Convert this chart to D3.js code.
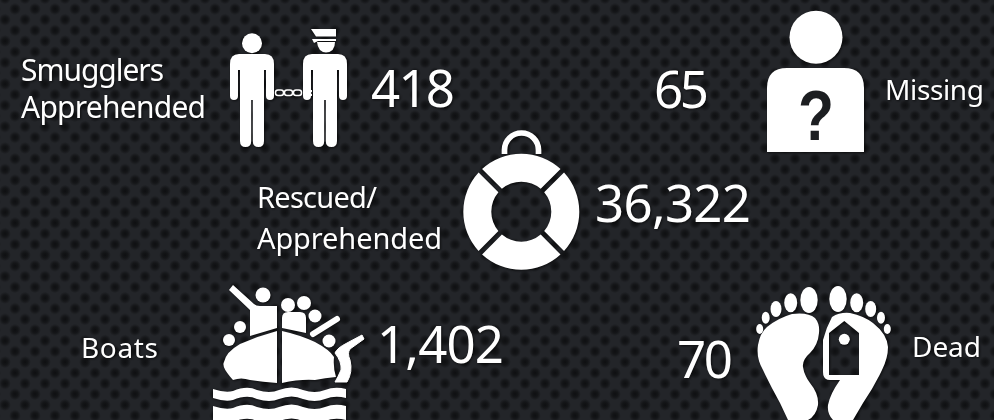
<!DOCTYPE html>
<html><head><meta charset="utf-8">
<script src="https://cdn.jsdelivr.net/npm/d3@7"></script>
<style>html,body{margin:0;padding:0;background:#1f2124;overflow:hidden}svg{display:block}</style>
</head><body><div id="c"></div>
<script>
const categories=["Smugglers Apprehended","Missing","Rescued/ Apprehended","Boats","Dead"];
const values=[418,65,36322,1402,70];
const labelLines=[["Smugglers","Apprehended"],["Missing"],["Rescued/","Apprehended"],["Boats"],["Dead"]];
const W=994,H=420;
const svg=d3.select("#c").append("svg").attr("width",W).attr("height",H);
const defs=svg.append("defs");
const pat=defs.append("pattern").attr("id","bg").attr("width",20).attr("height",21.4).attr("patternUnits","userSpaceOnUse").attr("x",5).attr("y",-1.7);
pat.append("rect").attr("width",20).attr("height",21.4).attr("fill","#232529");
const rg=defs.append("radialGradient").attr("id","dot");
rg.append("stop").attr("offset","0%").attr("stop-color","#0e0f11");
rg.append("stop").attr("offset","50%").attr("stop-color","#111214").attr("stop-opacity",.8);
rg.append("stop").attr("offset","100%").attr("stop-color","#111214").attr("stop-opacity",0);
[[0,0],[20,0],[0,21.4],[20,21.4],[10,10.7]].forEach(p=>pat.append("circle").attr("cx",p[0]).attr("cy",p[1]).attr("r",6).attr("fill","url(#dot)"));
svg.append("rect").attr("width",W).attr("height",H).attr("fill","url(#bg)");

const font="'Noto Sans',sans-serif";
const layout=[
 {lx:21,ly:[81,118],lw:[143,185],ls:30,vx:371,vy:107,vw:84,vs:51},
 {lx:885,ly:[100],lw:[99],ls:28,vx:654,vy:108,vw:55,vs:51},
 {lx:257,ly:[208,249],lw:[120,185],ls:29,vx:595,vy:222,vw:156,vs:51},
 {lx:81,ly:[358],lw:[77],ls:28,vx:377,vy:363,vw:127,vs:51},
 {lx:912,ly:[357],lw:[69],ls:28,vx:677,vy:378,vw:56,vs:51}
];
const fmt=d3.format(",");
const shadow="drop-shadow(1px 1px 1px rgba(0,0,0,.6))";
const g=svg.selectAll("g.item").data(categories).join("g").attr("class","item").style("filter",shadow);
g.each(function(c,i){
 const s=d3.select(this),L=layout[i];
 labelLines[i].forEach((t,j)=>s.append("text").text(t).attr("x",L.lx).attr("y",L.ly[j]).attr("font-family",font).attr("font-size",L.ls).attr("fill","#fff").attr("textLength",L.lw[j]).attr("lengthAdjust","spacing"));
 s.append("text").text(fmt(values[i])).attr("x",L.vx).attr("y",L.vy).attr("font-family",font).attr("font-size",L.vs).attr("fill","#fff").attr("textLength",L.vw).attr("lengthAdjust","spacing");
});

const ic=svg.append("g").attr("fill","#fff").style("filter",shadow);
const DARK="#1c1e21";
function fig(x,w){
 const r=x+w, b0=x+10, b1=r-10, m=(b0+b1)/2;
 ic.append("path").attr("d",`M${x+9} 54 H${r-9} Q${r} 54 ${r} 64 V96 Q${r} 100 ${r-4} 100 Q${r-8} 100 ${r-8} 96 V70 H${r-10} V141 Q${r-10} 147 ${m+6.5} 147 Q${m+.8} 147 ${m+.8} 141 V100 H${m-.8} V141 Q${m-.8} 147 ${m-6.5} 147 Q${b0} 147 ${b0} 141 V70 H${x+8} V96 Q${x+8} 100 ${x+4} 100 Q${x} 100 ${x} 96 V64 Q${x} 54 ${x+9} 54 Z`);
}
fig(230,44); fig(303,44);
ic.append("circle").attr("cx",252).attr("cy",43.3).attr("r",10);
ic.append("path").attr("d","M311 29 H336 V36.5 H316 Z M312 39 H336 V41 H318 L314 43 Z M317 42 H335 Q335 52 326 52.5 Q318 52 317 42 Z");
ic.append("path").attr("d","M266 90 H274 V92.2 H266Z M266 93.8 H274 V96 H266Z M303 90 H312 V92.2 H303Z M303 93.8 H312 V96 H303Z");
[279.5,288.5,297.5].forEach(x=>ic.append("rect").attr("x",x-4).attr("y",90).attr("width",8).attr("height",5.5).attr("rx",2.5).attr("fill","none").attr("stroke","#fff").attr("stroke-width",1.5));

// missing
ic.append("circle").attr("cx",816).attr("cy",37.3).attr("r",26.5);
ic.append("path").attr("d","M767 152 V88 Q767 68 787 68 H844 Q864 68 864 88 V152 Z");
ic.append("text").text("?").attr("x",798).attr("y",140).attr("font-family","'Liberation Sans',sans-serif").attr("font-weight",700).attr("font-size",71).attr("fill",DARK).attr("textLength",36).attr("lengthAdjust","spacingAndGlyphs");

// life ring
const arc=d3.arc().innerRadius(30).outerRadius(58).padAngle(.085).padRadius(58);
const ring=ic.append("g").attr("transform","translate(521.3,211.7)");
[[-45,45],[45,135],[135,225],[225,315]].forEach(a=>ring.append("path").attr("d",arc({startAngle:a[0]*Math.PI/180,endAngle:a[1]*Math.PI/180})));
ic.append("path").attr("d","M504.5 154 V150 A17 17 0 0 1 538.5 150 V154").attr("fill","none").attr("stroke","#fff").attr("stroke-width",5.7);

// boat
ic.append("path").attr("d","M277 331 V383 Q263 382 250 380 Q241 377 233 380 Q221 367 224 362 Q226 352 240 344 Q258 336 277 331 Z M282 331 Q300 335 315 342 Q330 350 334 357 Q333 368 336 377 Q325 378 315 380 Q300 379 282 383 Z");
ic.append("path").attr("d","M250 336 V310 L229 290 L233 285 L254 304 Q256 306 260 306 H277 V328 Z");
ic.append("path").attr("d","M282 328 V318 Q282 312 288 312 H300 Q306 312 306 318 V333 Z");
[[263,295,7.5],[288,305,7],[304,303,7],[315,316,6.5],[240,327,6],[229,340,6],[329,341,6.5]].forEach(c=>ic.append("circle").attr("cx",c[0]).attr("cy",c[1]).attr("r",c[2]));
ic.append("path").attr("d","M313 334 L337 319").attr("stroke","#fff").attr("stroke-width",6).attr("stroke-linecap","round");
ic.append("path").attr("d","M362 335 L347 343 Q337 348 335 353 Q342 362 341 370 Q338 377 335 382 H347 Q353 372 350 360 Q347 353 350 349 L364 339 Z").attr("stroke","#fff").attr("stroke-width",1).attr("stroke-linejoin","round");
function wave(y,h){
 const top=`M213 ${y} Q225 ${y+4} 233 ${y+2} Q247 ${y-4} 257 ${y+1} Q270 ${y+5} 279 ${y+1} Q292 ${y-4} 303 ${y+1} Q315 ${y+5} 325 ${y+1} Q335 ${y-3} 346 ${y}`;
 const b=y+h;
 ic.append("path").attr("d",`${top} V${b} Q335 ${b-3} 325 ${b+1} Q315 ${b+5} 303 ${b+1} Q292 ${b-4} 279 ${b+1} Q270 ${b+5} 257 ${b+1} Q247 ${b-4} 233 ${b+2} Q225 ${b+4} 213 ${b} Z`);
}
wave(389,9);wave(406,14);

// feet
ic.append("path").attr("d","M792 314 Q808 312 815 318 Q820 324 819 333 Q818 345 810 353 Q802 360 803 367 Q804 375 810 383 Q819 394 818 405 Q816 416 808 420 H788 L780 403 Q770 385 763 370 Q756 358 758 345 Q760 333 767 327 Q778 318 792 314 Z");
ic.append("path").attr("fill-rule","evenodd").attr("d","M850 313 Q864 316 873 323 Q887 334 888 347 Q888 358 882 370 Q874 387 863 403 L853 420 H833 Q827 414 828 405 Q830 394 840 380 H830 Q823 380 823 372 V340 Q826 328 832 317 Q840 312 850 313 Z M844.3 321 L829 333 V375 H859 V333 Z");
ic.append("circle").attr("cx",844.3).attr("cy",339.3).attr("r",5.5);
[[809,300,8.7,13],[790.7,302.7,6.5,9.5],[776,309,5.5,8],[765.7,317.7,4,6],[759.7,329,3.5,5],[838,299,8.7,13],[856.7,302.7,6.5,9.5],[870.7,309,5.5,8],[881,317.7,4,6],[887.3,329,3.5,5]].forEach(e=>ic.append("ellipse").attr("cx",e[0]).attr("cy",e[1]).attr("rx",e[2]).attr("ry",e[3]));
</script></body></html>
